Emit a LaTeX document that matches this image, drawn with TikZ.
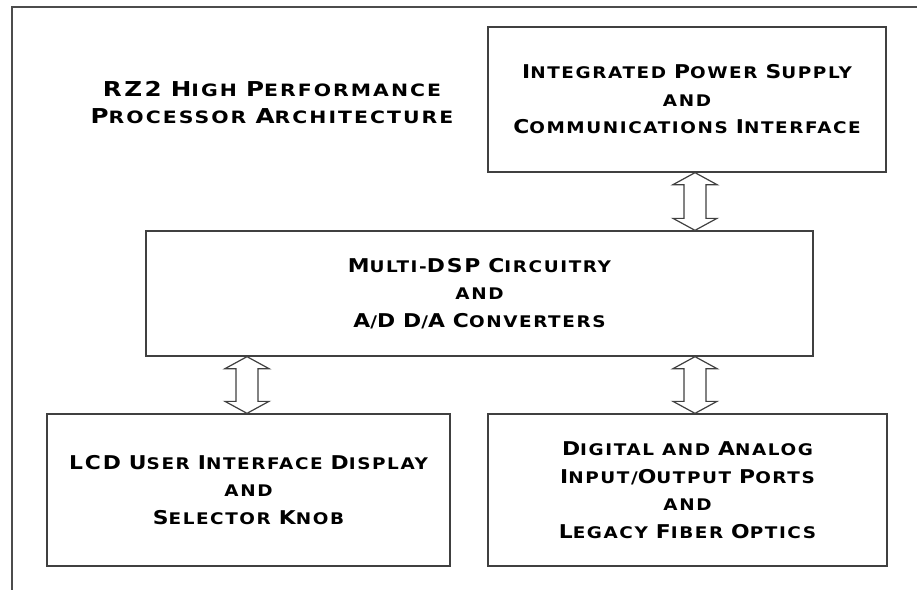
\documentclass[tikz,border=0pt]{standalone}
\usepackage{fontspec}
\newfontfamily\dg{DejaVu Sans}[LetterSpace=10, FakeStretch=1.15]
\newfontfamily\dgt{DejaVu Sans}[LetterSpace=12, FakeStretch=1.2]
\usetikzlibrary{calc}
\newcommand\bc[1]{{\fontsize{19}{19}\selectfont #1}}
\newcommand\bct[1]{{\fontsize{20.5}{20.5}\selectfont #1}}
\newcommand\dblarrow[2]{%
  \draw[arrowline] let \p1=(#1), \p2=(#2) in
    (\x1,\y1) -- (\x1+22pt,\y1-12pt) -- (\x1+11pt,\y1-12pt) -- (\x1+11pt,\y2+12pt)
    -- (\x1+22pt,\y2+12pt) -- (\x1,\y2) -- (\x1-22pt,\y2+12pt) -- (\x1-11pt,\y2+12pt)
    -- (\x1-11pt,\y1-12pt) -- (\x1-22pt,\y1-12pt) -- cycle;}
\tikzset{
  box/.style={draw=black!75, line width=1.3pt, fill=white, inner sep=0pt, align=center,
    font=\dg\bfseries\fontsize{16}{27.5}\selectfont},
  arrowline/.style={draw=black!75, line width=1.2pt, fill=white, line join=miter},
  frame/.style={draw=black!70, line width=2pt}
}
\begin{document}
\begin{tikzpicture}[x=1pt,y=-1pt]
\useasboundingbox (0,0) rectangle (917,589);
\draw[frame] (12,7) rectangle (940,610);
\node[align=center, font=\dgt\bfseries\fontsize{17}{27}\selectfont] (title) at (272,103)
  {\bct{RZ2} \bct{H}IGH \bct{P}ERFORMANCE\\\bct{P}ROCESSOR \bct{A}RCHITECTURE};
\node[box, minimum width=398pt, minimum height=145pt] (power) at (687,99.5)
  {\bc{I}NTEGRATED \bc{P}OWER \bc{S}UPPLY\\AND\\\bc{C}OMMUNICATIONS \bc{I}NTERFACE};
\node[box, minimum width=667pt, minimum height=125pt] (dsp) at (479.5,293.5)
  {\bc{M}ULTI-\bc{DSP} \bc{C}IRCUITRY\\AND\\\bc{A}/\bc{D} \bc{D}/\bc{A} \bc{C}ONVERTERS};
\node[box, minimum width=403pt, minimum height=152pt] (lcd) at (248.5,490)
  {\bc{LCD} \bc{U}SER \bc{I}NTERFACE \bc{D}ISPLAY\\AND\\\bc{S}ELECTOR \bc{K}NOB};
\node[box, minimum width=399pt, minimum height=152pt] (io) at (687.5,490)
  {\bc{D}IGITAL AND \bc{A}NALOG\\\bc{I}NPUT/\bc{O}UTPUT \bc{P}ORTS\\AND\\\bc{L}EGACY \bc{F}IBER \bc{O}PTICS};
\coordinate (a1t) at (power.south -| 695,0);
\coordinate (a1b) at (dsp.north -| 695,0);
\coordinate (a2t) at (dsp.south -| 247,0);
\coordinate (a2b) at (lcd.north -| 247,0);
\coordinate (a3t) at (dsp.south -| 695,0);
\coordinate (a3b) at (io.north -| 695,0);
\dblarrow{a1t}{a1b}
\dblarrow{a2t}{a2b}
\dblarrow{a3t}{a3b}
\end{tikzpicture}
\end{document}
